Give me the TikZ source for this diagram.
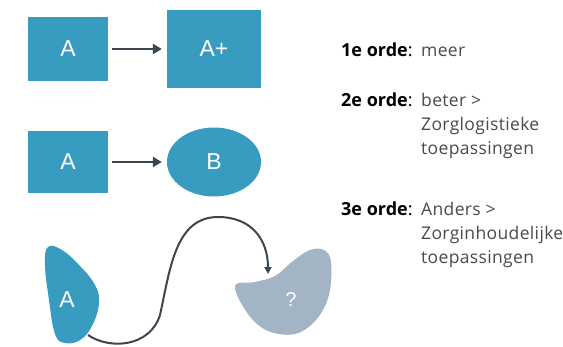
\documentclass[tikz,border=0pt]{standalone}
\usepackage{fontspec}
\setmainfont{Open Sans}
\newfontfamily\widefont{Open Sans}[LetterSpace=2]
\newfontfamily\shapefont{Liberation Sans}
\usetikzlibrary{arrows.meta,shapes.geometric}
\definecolor{boxblue}{HTML}{389CC0}
\definecolor{slate}{HTML}{A3B5C4}
\definecolor{ink}{HTML}{3C4650}
\definecolor{txt}{HTML}{4A4A4A}
\newcommand\labelsize{\shapefont\fontsize{23}{23}\selectfont}
\tikzset{
  box/.style={fill=boxblue, draw=none, minimum width=#1, text=white, inner sep=0pt,
    font=\labelsize},
  oval/.style={ellipse, fill=boxblue, draw=none, text=white, inner sep=0pt,
    font=\labelsize},
  flow/.style={draw=ink, line width=2.6pt, -{Triangle[length=9pt,width=10pt]}},
  wave/.style={draw=ink, line width=2pt, -{Triangle[length=7pt,width=7pt]}},
  head/.style={anchor=base west, inner sep=0pt, text=black,
    font=\fontsize{18}{18}\selectfont},
  body/.style={anchor=base west, inner sep=0pt, text=txt,
    font=\widefont\fontsize{17.5}{17.5}\selectfont},
}
\begin{document}
\begin{tikzpicture}[x=1pt,y=-1pt]
\useasboundingbox (0,0) rectangle (563,346);
\fill[white] (0,0) rectangle (563,346);

% first row: more of the same
\node[box=80pt, minimum height=64pt] (a1) at (68,49) {A};
\node[box=94pt, minimum height=78pt] (a2) at (214,49) {A+};
\draw[flow] ([xshift=4pt]a1.east) -- ([xshift=-5pt]a2.west);

% second row: something better
\node[box=80pt, minimum height=62pt] (b1) at (68,162) {A};
\node[oval, minimum width=94pt, minimum height=69pt] (b2) at (214,162) {B};
\draw[flow] ([xshift=4pt]b1.east) -- ([xshift=-5pt]b2.west);

% third row: something different
\fill[boxblue] plot[smooth cycle, tension=0.7] coordinates
  {(48,247) (62,250) (80,266) (95,285) (99,303) (92,326) (80,340) (65,343) (55,334) (49,300) (45,265)};
\node[text=white, font=\labelsize] (c1) at (67,300) {A};
\fill[slate] plot[smooth cycle, tension=0.6] coordinates
  {(235,286) (255,282) (275,276) (293,261) (310,250) (324,250) (331,262) (329,295) (316,320) (295,334) (268,331) (248,314)};
\node[text=white, font=\shapefont\fontsize{20}{20}\selectfont] (c2) at (291,300) {?};
\coordinate (s) at (88,335);
\coordinate (t) at (268,274);
\draw[wave] (s) .. controls (110,350) and (150,347) .. (160,315)
  .. controls (170,270) and (175,217) .. (218,217)
  .. controls (252,217) and (268,240) .. (t);

% legend
\node[head] (h1) at (341,56) {\bfseries 1e orde\mdseries:};
\node[body] (l1) at (421,56) {meer};
\node[head] (h2) at (341,106) {\bfseries 2e orde\mdseries:};
\node[body] (l2) at (421,106) {beter >};
\node[body] (l3) at (421,130) {Zorglogistieke};
\node[body] (l4) at (421,154) {toepassingen};
\node[head] (h3) at (341,215) {\bfseries 3e orde\mdseries:};
\node[body] (l5) at (421,215) {Anders >};
\node[body] (l6) at (421,239) {Zorginhoudelijke};
\node[body] (l7) at (421,263) {toepassingen};
\end{tikzpicture}
\end{document}
